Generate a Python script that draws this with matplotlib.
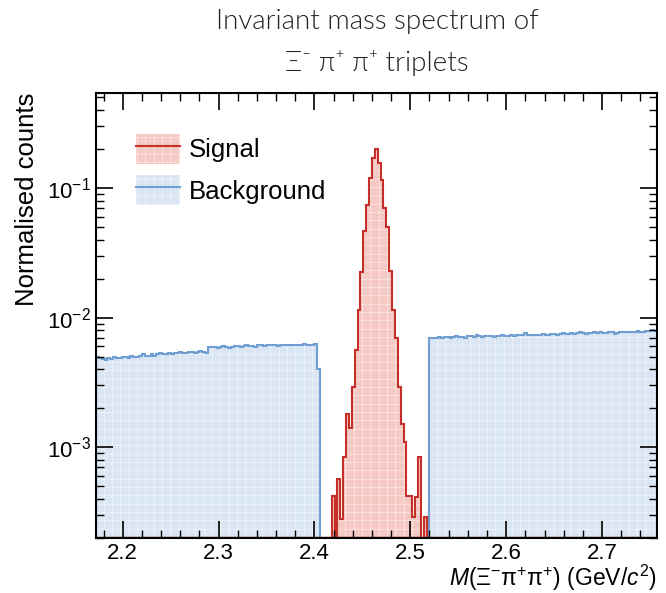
import numpy as np
import matplotlib
matplotlib.use('Agg')
import matplotlib.pyplot as plt
from matplotlib.patches import Patch
from matplotlib.lines import Line2D
from matplotlib.ticker import MultipleLocator, LogLocator, NullFormatter

# binning (GeV/c^2)
x_start = 2.172
bin_width = 0.003

# background, normalised counts (x1e-3), left sideband / gap / right sideband
bg_left = [5.0, 4.9, 4.8, 4.7, 4.9, 4.8, 5.0, 4.9, 4.9, 5.0, 5.0, 4.9, 5.1, 5.0, 5.0, 5.1,
           5.2, 5.1, 5.1, 5.2, 5.1, 5.2, 5.3, 5.2, 5.2, 5.3, 5.2, 5.3, 5.3, 5.4, 5.3, 5.3,
           5.4, 5.4, 5.3, 5.4, 5.5, 5.4, 5.3,
           5.9, 5.9, 5.9, 5.8, 5.9, 6.0, 5.9, 5.8, 5.9, 6.0, 6.0, 5.9, 6.0, 6.1, 6.0, 6.0,
           5.9, 6.1, 6.1, 6.0, 6.1, 6.2, 6.1, 6.1, 6.0, 6.2, 6.2, 6.1, 6.1, 6.2, 6.2, 6.1,
           6.2, 6.3, 6.2, 6.2, 6.1, 6.3, 4.0]
bg_gap = [0.0] * 38
bg_right = [7.0, 7.0, 7.0, 7.1, 7.0, 7.1, 7.1, 7.0, 7.1, 7.2, 7.1, 7.1, 7.0, 7.2, 7.2, 7.1,
            7.3, 7.2, 7.1, 7.2, 7.2, 7.2, 7.1, 7.2, 7.2, 7.3, 7.2, 7.2, 7.3, 7.2, 7.3, 7.3,
            7.4, 7.6, 7.4, 7.4, 7.3, 7.3, 7.4, 7.5, 7.4, 7.4, 7.5, 7.5, 7.4, 7.5, 7.6, 7.5,
            7.5, 7.6, 7.5, 7.6, 7.7, 7.6, 7.5, 7.6, 7.6, 7.7, 7.6, 7.8, 7.6, 7.6, 7.7, 7.7,
            7.5, 7.6, 7.7, 7.8, 7.7, 7.8, 7.7, 7.8, 7.9, 7.8, 7.8, 7.9, 7.9, 8.0, 7.9]

# signal, normalised counts, starting at sig_start
sig_start = 2.418
signal = [4.2e-4, 0, 5.7e-4, 2.8e-4, 8.4e-4, 1.8e-3, 1.4e-3, 2.9e-3, 5.6e-3, 0.0115,
          0.0224, 0.047, 0.074, 0.12, 0.17, 0.20, 0.156, 0.115, 0.07, 0.05, 0.023,
          0.0115, 7e-3, 2.9e-3, 1.5e-3, 1.1e-3, 4.2e-4, 4.2e-4, 2.9e-4, 4.1e-4, 8.4e-4,
          0, 2.9e-4]

sig_col = '#c62f28'
sig_fill = '#f5c9c4'
bg_col = '#6f9ed3'
bg_fill = '#dbe6f4'

plt.rcParams['hatch.linewidth'] = 0.3
plt.rcParams['font.family'] = ['Liberation Sans', 'DejaVu Sans']
plt.rcParams['mathtext.fontset'] = 'custom'
plt.rcParams['mathtext.rm'] = 'Liberation Sans'
plt.rcParams['mathtext.it'] = 'Liberation Sans:italic'


def main():
    bg = np.array(bg_left + bg_gap + bg_right) * 1e-3
    bg_edges = x_start + bin_width * np.arange(len(bg) + 1)
    sig = np.array(signal, dtype=float)
    sig_edges = sig_start + bin_width * np.arange(len(sig) + 1)

    floor = 1e-7
    fig = plt.figure(figsize=(6.66, 5.93), dpi=100)
    ax = fig.add_axes([0.144, 0.093, 0.842, 0.75])

    ax.stairs(np.maximum(bg, floor), bg_edges, baseline=floor, fill=True,
              facecolor=bg_fill, edgecolor='white', hatch='++', linewidth=0)
    ax.stairs(np.maximum(bg, floor), bg_edges, baseline=floor, color=bg_col, linewidth=1.5)
    ax.stairs(np.maximum(sig, floor), sig_edges, baseline=floor, fill=True,
              facecolor=sig_fill, edgecolor='white', hatch='++', linewidth=0)
    ax.stairs(np.maximum(sig, floor), sig_edges, baseline=floor, color=sig_col, linewidth=1.5)
    # empty signal bins run along the bottom of the frame
    ax.axhline(2.0e-4, color='#9c2a22', linewidth=2.5, zorder=1.5)

    ax.set_yscale('log')
    ax.set_xlim(2.172, 2.757)
    ax.set_ylim(2.0e-4, 0.54)

    ax.xaxis.set_major_locator(MultipleLocator(0.1))
    ax.xaxis.set_minor_locator(MultipleLocator(0.02))
    ax.yaxis.set_major_locator(LogLocator(base=10, numticks=10))
    ax.yaxis.set_minor_locator(LogLocator(base=10, subs=np.arange(2, 10), numticks=10))
    ax.yaxis.set_minor_formatter(NullFormatter())
    ax.tick_params(which='both', direction='in', top=True, right=True, labelsize=16)
    ax.tick_params(which='major', length=12, width=1.2)
    ax.tick_params(which='minor', length=6, width=1.0)
    ax.tick_params(axis='x', pad=4)
    for s in ax.spines.values():
        s.set_linewidth(1.5)
        s.set_zorder(3)

    ax.set_ylabel('Normalised counts', fontsize=18.5, loc='top', labelpad=6)
    ax.set_xlabel(r'$M$(Ξ$^{-}$π$^{+}$π$^{+}$) (GeV/$c^{2}$)', fontsize=16.5,
                  loc='right', labelpad=-1)

    fig.suptitle('Invariant mass spectrum of\nΞ⁻ π⁺ π⁺ triplets', x=0.566, y=0.985,
                 fontsize=20, family=['Lato', 'DejaVu Sans'], fontweight=300,
                 color='#222222', linespacing=1.75)

    h_sig = (Patch(facecolor=sig_fill, edgecolor='white', hatch='++', linewidth=0),
             Line2D([], [], color=sig_col, linewidth=1.5))
    h_bg = (Patch(facecolor=bg_fill, edgecolor='white', hatch='++', linewidth=0),
            Line2D([], [], color=bg_col, linewidth=1.5))
    ax.legend([h_sig, h_bg], ['Signal', 'Background'], loc='upper left',
              bbox_to_anchor=(0.03, 0.96), frameon=False, fontsize=18.5,
              handlelength=1.7, handleheight=1.4, labelspacing=0.45, handletextpad=0.35)

    fig.savefig('out.png', dpi=100)


if __name__ == "__main__":
    main()
